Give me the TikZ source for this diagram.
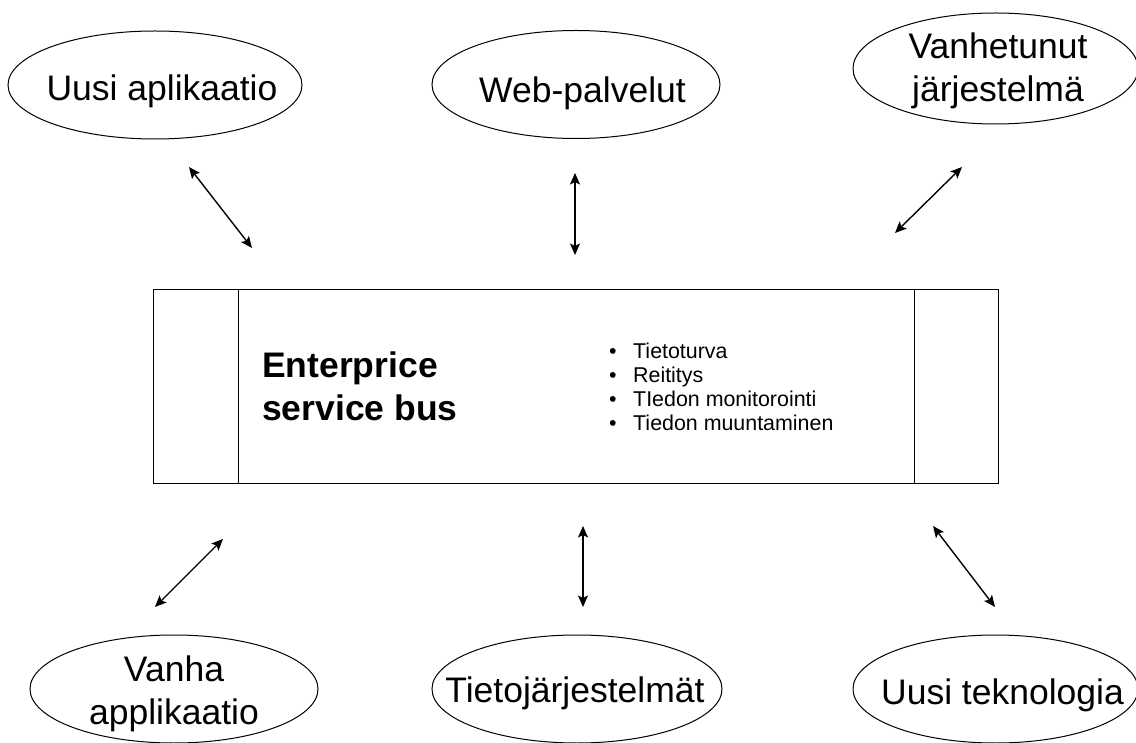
\documentclass[tikz,border=0pt]{standalone}
\usepackage{fontspec}
\setmainfont{Liberation Sans}
\usetikzlibrary{arrows.meta}
\newcommand{\lstr}{\rule[-9.2pt]{0pt}{43pt}}
\newcommand{\bstr}{\rule[-4.75pt]{0pt}{24pt}}
\newcommand{\bul}{\makebox[26pt][l]{\hspace{2pt}•}}
\begin{document}
\begin{tikzpicture}[x=1pt,y=-1pt,
  big/.style={inner sep=0pt, align=center, font=\fontsize{35.5}{43}\selectfont},
  oval/.style={draw=black, line width=1pt},
  bus/.style={draw=black, line width=1pt},
  link/.style={line width=1.4pt, {Stealth[length=11.5pt,width=10pt,inset=2.5pt]}-{Stealth[length=11.5pt,width=10pt,inset=2.5pt]}},
]
\useasboundingbox[fill=white] (0,0) rectangle (1136,743);

% outer systems (text)
\node[big] (e1) at (162,88) {\lstr Uusi aplikaatio};
\node[big] (e2) at (582.5,90) {\lstr Web-palvelut};
\node[big] (e3) at (998,67.5) {\lstr Vanhetunut\\\lstr järjestelmä};
\node[big] (e4) at (174,690.5) {\lstr Vanha\\\lstr applikaatio};
\node[big] (e5) at (575,690.5) {\lstr Tietojärjestelmät};
\node[big] (e6) at (1002.5,692) {\lstr Uusi teknologia};

% outer systems (ovals)
\draw[oval] (155,85) ellipse [x radius=147, y radius=54];
\draw[oval] (576,84.5) ellipse [x radius=144, y radius=54];
\draw[oval] (995.5,68.5) ellipse [x radius=142.5, y radius=55.5];
\draw[oval] (174,689) ellipse [x radius=144, y radius=54];
\draw[oval] (577,689) ellipse [x radius=145, y radius=54];
\draw[oval] (995.5,689) ellipse [x radius=142.5, y radius=54];

% bus
\node[bus, minimum width=845, minimum height=193, inner sep=0pt] (esb) at (575.5,386.5) {};
\draw[bus] (esb.north west) ++(86,0) -- ++(0,193);
\draw[bus] (esb.north east) ++(-84,0) -- ++(0,193);

\node[inner sep=0pt, anchor=west, align=left, font=\fontsize{35.5}{43}\selectfont\bfseries] (title) at (262,386.5)
  {\lstr Enterprice\\\lstr service bus};
\node[inner sep=0pt, anchor=west, align=left, font=\fontsize{21.4}{24}\selectfont] (feat) at (607,387)
  {\bstr\bul Tietoturva\\\bstr\bul Reititys\\\bstr\bul TIedon monitorointi\\\bstr\bul Tiedon muuntaminen};

% connectors
\coordinate (a1s) at (189,167); \coordinate (a1e) at (252,248);
\coordinate (a2s) at (575,173); \coordinate (a2e) at (575,255);
\coordinate (a3s) at (962,167); \coordinate (a3e) at (895,233);
\coordinate (a4s) at (223,539); \coordinate (a4e) at (155,607);
\coordinate (a5s) at (583,526); \coordinate (a5e) at (583,607);
\coordinate (a6s) at (933,526); \coordinate (a6e) at (995,607);
\draw[link] (a1s) -- (a1e);
\draw[link] (a2s) -- (a2e);
\draw[link] (a3s) -- (a3e);
\draw[link] (a4s) -- (a4e);
\draw[link] (a5s) -- (a5e);
\draw[link] (a6s) -- (a6e);
\end{tikzpicture}
\end{document}
